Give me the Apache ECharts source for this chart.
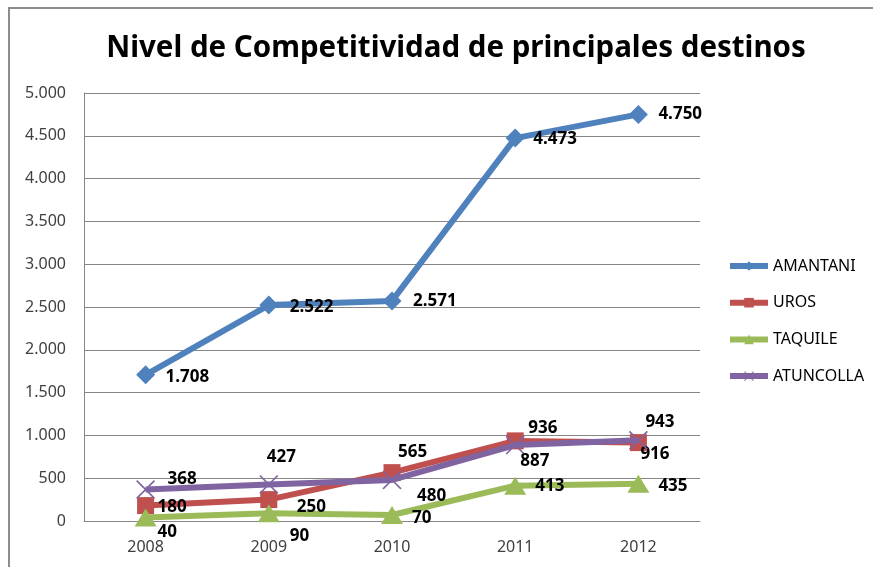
<!DOCTYPE html>
<html>
<head>
<meta charset="utf-8">
<script src="https://cdn.jsdelivr.net/npm/echarts@6/dist/echarts.min.js"></script>
<style>
html,body{margin:0;padding:0;background:#fff;}
#chart{width:877px;height:567px;}
</style>
</head>
<body>
<div id="chart"></div>
<script>
var titleText = 'Nivel de Competitividad de principales destinos';
var categories = ['2008', '2009', '2010', '2011', '2012'];
var seriesNames = ['AMANTANI', 'UROS', 'TAQUILE', 'ATUNCOLLA'];
var amantani = [1708, 2522, 2571, 4473, 4750];
var uros = [180, 250, 565, 936, 916];
var taquile = [40, 90, 70, 413, 435];
var atuncolla = [368, 427, 480, 887, 943];

// label placement (px offsets of label left edge / center from point)
var labelPlace = {
  AMANTANI: [[20, 2], [21, 2], [21, 0], [18, 1], [20, 0]],
  UROS: [[12, 2], [28, 8], [6, -20], [13, -13], [2, 12]],
  TAQUILE: [[12, 15], [21, 23], [20, 3], [20, 1], [20, 2]],
  ATUNCOLLA: [[22, -10], [-2, -27], [25, 16], [5, 16], [7, -18]]
};

var colors = {AMANTANI: '#4F81BD', UROS: '#C0504D', TAQUILE: '#9BBB59', ATUNCOLLA: '#8064A2'};
var xPath = 'path://M0,1.2 L1.2,0 L10,8.8 L18.8,0 L20,1.2 L11.2,10 L20,18.8 L18.8,20 L10,11.2 L1.2,20 L0,18.8 L8.8,10 Z';
var symbols = {AMANTANI: 'diamond', UROS: 'rect', TAQUILE: 'triangle', ATUNCOLLA: xPath};
var symSizes = {AMANTANI: [19, 19], UROS: [17, 17], TAQUILE: [22, 18], ATUNCOLLA: [19, 19]};

function fmt(v) {
  return String(v).replace(/\B(?=(\d{3})+(?!\d))/g, '.');
}

var values = {AMANTANI: amantani, UROS: uros, TAQUILE: taquile, ATUNCOLLA: atuncolla};
var FONT = 'Noto Sans';

var series = seriesNames.map(function (name) {
  var sw = symSizes[name][0] / 2;
  return {
    name: name,
    type: 'line',
    data: values[name].map(function (v, i) {
      var p = labelPlace[name][i];
      return {
        value: v,
        label: {offset: [p[0] - sw, p[1]]}
      };
    }),
    symbol: symbols[name],
    symbolSize: symSizes[name],
    lineStyle: {width: 6, color: colors[name]},
    itemStyle: {color: colors[name]},
    z: name === 'ATUNCOLLA' ? 4 : 3,
    label: {
      show: true,
      position: 'right',
      distance: 0,
      formatter: function (p) { return fmt(p.value); },
      color: '#000',
      fontFamily: FONT,
      fontWeight: 'bold',
      fontSize: 17
    },
    emphasis: {disabled: true},
    animation: false
  };
});

var chart = echarts.init(document.getElementById('chart'));
chart.setOption({
  backgroundColor: '#fff',
  animation: false,
  title: {
    text: titleText,
    left: 451,
    textAlign: 'center',
    top: 29,
    textStyle: {fontFamily: FONT, fontWeight: 'bold', fontSize: 29.5, color: '#000'}
  },
  graphic: [
    {type: 'polyline', shape: {points: [[9, 600], [9, 8], [873, 8]]}, style: {stroke: '#8c8c8c', lineWidth: 2, fill: null}}
  ],
  legend: {
    orient: 'vertical',
    left: 727,
    top: 258,
    padding: 0,
    itemWidth: 38,
    itemHeight: 12,
    itemGap: 20.7,
    lineStyle: {width: 6},
    textStyle: {fontFamily: FONT, fontSize: 16, color: '#000'},
    data: seriesNames
  },
  grid: {left: 84, right: 177, top: 93, bottom: 46, containLabel: false},
  xAxis: {
    type: 'category',
    data: categories,
    boundaryGap: true,
    axisLine: {lineStyle: {color: '#868686', width: 1}},
    axisTick: {show: false},
    axisLabel: {fontFamily: FONT, fontSize: 16, color: '#404040', margin: 18}
  },
  yAxis: {
    type: 'value',
    min: 0,
    max: 5000,
    interval: 500,
    axisLine: {show: true, lineStyle: {color: '#868686', width: 1}},
    axisTick: {show: false},
    splitLine: {lineStyle: {color: '#868686', width: 1}},
    axisLabel: {fontFamily: FONT, fontSize: 16, color: '#404040', margin: 18, formatter: fmt}
  },
  series: series
});
</script>
</body>
</html>
